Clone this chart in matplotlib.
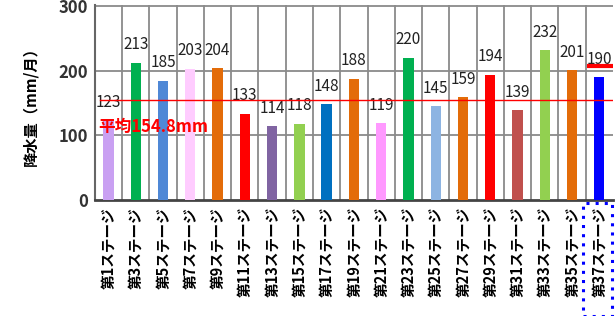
import matplotlib.pyplot as plt
from matplotlib.patches import Rectangle

plt.rcParams['font.family'] = ['Noto Sans CJK JP', 'DejaVu Sans']

# --- data ---
stages = ["第1ステージ", "第3ステージ", "第5ステージ", "第7ステージ", "第9ステージ",
          "第11ステージ", "第13ステージ", "第15ステージ", "第17ステージ", "第19ステージ",
          "第21ステージ", "第23ステージ", "第25ステージ", "第27ステージ", "第29ステージ",
          "第31ステージ", "第33ステージ", "第35ステージ", "第37ステージ"]
rain = [123, 213, 185, 203, 204, 133, 114, 118, 148, 188,
        119, 220, 145, 159, 194, 139, 232, 201, 190]
colors = ["#c9a0f2", "#00b050", "#4f88d6", "#ffccff", "#e36c09", "#ff0000", "#8064a2",
          "#92d050", "#0070c0", "#e36c09", "#ff99ff", "#00b050", "#8db4e2", "#e36c09",
          "#ff0000", "#c0504d", "#92d050", "#e36c09", "#0000ff"]
avg = 154.8

fig = plt.figure(figsize=(6.16, 3.16), dpi=100)
ax = fig.add_axes([0.154, 0.367, 0.841, 0.617])

x = range(len(stages))
ax.bar(x, rain, width=0.38, color=colors, zorder=3)
for i, v in enumerate(rain):
    ax.text(i, v + 15, str(v), ha="center", va="bottom", fontsize=11, color="#222222", zorder=4)

ax.set_xlim(-0.5, len(stages) - 0.5)
ax.set_ylim(0, 302)
ax.set_yticks([0, 100, 200, 300])
ax.set_yticklabels(["0", "100", "200", "300"], fontsize=12, fontweight="bold", color="#333333")
ax.set_xticks(list(x))
ax.set_xticklabels(stages, rotation=90, fontsize=10.5, fontweight="bold", va="top")
ax.tick_params(length=0, pad=5)

# grid at category boundaries
for b in range(1, len(stages)):
    ax.axvline(b - 0.5, color="#8a8a8a", lw=1.3, zorder=1)
for yv in [100, 200, 300]:
    ax.axhline(yv, color="#8a8a8a", lw=1.3, zorder=1)

for s in ["top", "right"]:
    ax.spines[s].set_visible(False)
ax.spines["left"].set_color("#666666")
ax.spines["left"].set_linewidth(1.5)
ax.spines["bottom"].set_color("#444444")
ax.spines["bottom"].set_linewidth(2)

ax.set_ylabel("降水量（mm/月）", fontsize=11, fontweight="bold", labelpad=14)

# average line
ax.axhline(avg, xmin=0.01, xmax=1, color="red", lw=1, zorder=5)
ax.text(-0.38, 113, f"平均{avg}mm", color="red", fontsize=12, fontweight="bold",
        va="center", ha="left", zorder=6)

# short red mark above last bar
ax.plot([len(stages) - 1.45, len(stages) - 0.5], [207, 207], color="red", lw=3,
        solid_capstyle="butt", zorder=6, clip_on=False)

# dotted blue box around last label
fig.patches.append(Rectangle((583 / 616, 0), 29 / 616, 113 / 316, transform=fig.transFigure,
                             fill=False, edgecolor="#0000ff", linestyle=(0, (1, 2)), lw=2.2))

fig.savefig("out.png", dpi=100)
